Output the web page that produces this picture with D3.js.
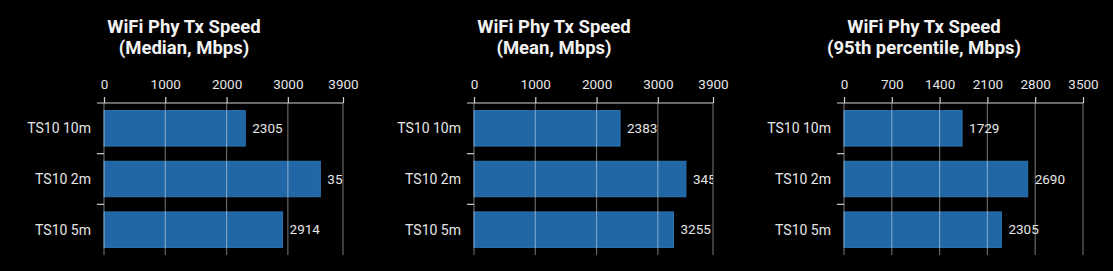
<!DOCTYPE html>
<html lang="en">
<head>
<meta charset="utf-8">
<title>WiFi Phy Tx Speed</title>
<script src="https://d3js.org/d3.v7.min.js"></script>
<style>
body {
  margin: 0;
  background-color: #000;
  font-family: Roboto, "Noto Sans", sans-serif;
}
svg { display: block; background: #000; }
.tick text { fill: #e6e6e6; }
</style>
</head>
<body>
<script>

// data
var categories = ["TS10 10m", "TS10 2m", "TS10 5m"];
var titles = [
  ["WiFi Phy Tx Speed", "(Median, Mbps)"],
  ["WiFi Phy Tx Speed", "(Mean, Mbps)"],
  ["WiFi Phy Tx Speed", "(95th percentile, Mbps)"]
];
var medianValues = [2305, 3530, 2914];
var meanValues = [2383, 3458, 3255];
var p95Values = [1729, 2690, 2305];
var axisMax = [3900, 3900, 3500];
var medianTicks = [0, 1000, 2000, 3000, 3900];
var meanTicks = [0, 1000, 2000, 3000, 3900];
var p95Ticks = [0, 700, 1400, 2100, 2800, 3500];

var allValues = [medianValues, meanValues, p95Values];
var allTicks = [medianTicks, meanTicks, p95Ticks];

var width = 1113, height = 271;
var panelW = 370;
var margin = {left: 104, top: 103};
var plotW = 239, plotH = 152;

var svg = d3.select("body").append("svg")
  .attr("width", width).attr("height", height);

var y = d3.scaleBand().domain(categories)
  .range([0, plotH]).paddingInner(0.3).paddingOuter(0.15);

for (var i = 0; i < 3; i++) {
  var values = allValues[i];
  var panel = svg.append("g").attr("transform", "translate(" + (i * panelW) + ",0)");

  // title
  panel.append("text")
    .attr("x", 184).attr("y", 33)
    .attr("text-anchor", "middle")
    .attr("fill", "#f2f2f2")
    .style("font-size", "18.5px").style("font-weight", "bold")
    .selectAll("tspan").data(titles[i]).enter().append("tspan")
    .attr("x", 184)
    .attr("dy", function(d, j) { return j === 0 ? 0 : 21; })
    .text(function(d) { return d; });

  var x = d3.scaleLinear().domain([0, axisMax[i]]).range([0, plotW]);

  var g = panel.append("g").attr("transform", "translate(" + margin.left + "," + margin.top + ")");

  g.append("clipPath").attr("id", "clip" + i)
    .append("rect").attr("x", 0).attr("y", -5).attr("width", plotW).attr("height", plotH + 10);

  // bars
  g.selectAll("rect.bar").data(values).enter().append("rect")
    .attr("class", "bar")
    .attr("x", 0)
    .attr("y", function(d, j) { return y(categories[j]); })
    .attr("width", function(d) { return x(d); })
    .attr("height", y.bandwidth())
    .attr("fill", "#2166a5")
    .attr("stroke", "#2d74b4")
    .attr("stroke-width", 1);

  // gridlines, over the bars
  g.selectAll("line.grid").data(allTicks[i]).enter().append("line")
    .attr("class", "grid")
    .attr("x1", function(d) { return x(d); })
    .attr("x2", function(d) { return x(d); })
    .attr("y1", 0).attr("y2", plotH)
    .attr("stroke", "#fff").attr("stroke-opacity", 0.4)
    .attr("stroke-width", 1.2);

  // value labels, clipped to the plot
  g.append("g").attr("clip-path", "url(#clip" + i + ")")
    .selectAll("text").data(values).enter().append("text")
    .attr("x", function(d) { return x(d) + 7; })
    .attr("y", function(d, j) { return y(categories[j]) + y.bandwidth() / 2; })
    .attr("dy", "0.35em")
    .attr("fill", "#e6e6e6")
    .style("font-size", "13.5px")
    .text(function(d) { return d; });

  // top axis
  var xAxis = d3.axisTop(x).tickValues(allTicks[i]).tickSize(6).tickSizeOuter(0)
    .tickFormat(d3.format("d"));
  var ax = g.append("g").call(xAxis);
  ax.select(".domain").remove();
  ax.selectAll(".tick line").attr("stroke", "#cfcfcf").attr("stroke-width", 1.2);
  ax.selectAll(".tick text").style("font-size", "13.5px").style("font-family", "Roboto").attr("dy", "-0.35em");
  g.append("line").attr("x1", -7).attr("x2", plotW).attr("y1", 0).attr("y2", 0)
    .attr("stroke", "#cfcfcf").attr("stroke-width", 1.2);

  // left category labels and boundary ticks
  g.selectAll("text.cat").data(categories).enter().append("text")
    .attr("class", "cat")
    .attr("x", -13)
    .attr("y", function(d) { return y(d) + y.bandwidth() / 2; })
    .attr("dy", "0.35em")
    .attr("text-anchor", "end")
    .attr("fill", "#e6e6e6")
    .style("font-size", "14px")
    .text(function(d) { return d; });

  g.selectAll("line.cattick").data(categories.slice(1)).enter().append("line")
    .attr("class", "cattick")
    .attr("x1", -7).attr("x2", 0)
    .attr("y1", function(d) { return y(d) - y.step() * y.paddingInner() / 2; })
    .attr("y2", function(d) { return y(d) - y.step() * y.paddingInner() / 2; })
    .attr("stroke", "#cfcfcf").attr("stroke-width", 1.2);
}

</script>
</body>
</html>
